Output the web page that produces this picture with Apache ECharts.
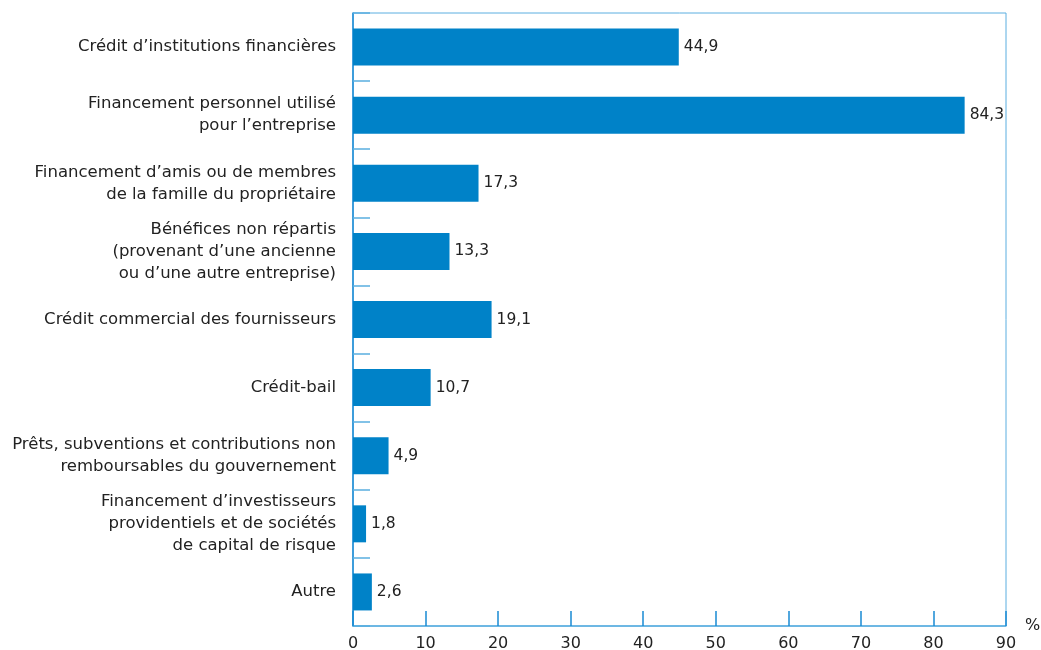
<!DOCTYPE html>
<html><head><meta charset="utf-8">
<script src="https://cdn.jsdelivr.net/npm/echarts@6/dist/echarts.min.js"></script>
<style>html,body{margin:0;padding:0;background:#fff}#c{width:1041px;height:650px}</style>
</head><body><div id="c"></div>
<script>
const categories = [
  "Crédit d’institutions financières",
  "Financement personnel utilisé\npour l’entreprise",
  "Financement d’amis ou de membres\nde la famille du propriétaire",
  "Bénéfices non répartis\n(provenant d’une ancienne\nou d’une autre entreprise)",
  "Crédit commercial des fournisseurs",
  "Crédit-bail",
  "Prêts, subventions et contributions non\nremboursables du gouvernement",
  "Financement d’investisseurs\nprovidentiels et de sociétés\nde capital de risque",
  "Autre"
];
const values = [44.9, 84.3, 17.3, 13.3, 19.1, 10.7, 4.9, 1.8, 2.6];
const xTicks = [0, 10, 20, 30, 40, 50, 60, 70, 80, 90];

const FONT = "'DejaVu Sans'";
const chart = echarts.init(document.getElementById('c'), null, {renderer: 'canvas'});
chart.setOption({
  animation: false,
  grid: {left: 353, right: 35, top: 13, bottom: 24, show: true, borderColor: '#5aaee0', borderWidth: 1,
    containLabel: false, outerBoundsMode: 'none'},
  xAxis: {
    type: 'value', min: 0, max: 90, interval: 10,
    name: '%', nameLocation: 'end', nameGap: 19,
    nameTextStyle: {color: '#222', fontSize: 16, fontFamily: FONT, verticalAlign: 'middle', padding: [0, 0, 0, 0]},
    axisLine: {show: true, lineStyle: {color: '#5aaee0', width: 1.5}},
    axisTick: {show: true, inside: true, length: 15, lineStyle: {color: '#1a8ad4', width: 1.5}},
    axisLabel: {color: '#222', fontSize: 16, fontFamily: FONT, margin: 10,
      formatter: v => xTicks.includes(v) ? String(v) : ''},
    splitLine: {show: false}
  },
  yAxis: {
    type: 'category', data: categories, inverse: true,
    axisLine: {show: true, lineStyle: {color: '#1a8ad4', width: 1.5}},
    axisTick: {show: true, inside: true, length: 17, lineStyle: {color: '#5aaee0', width: 1.5}},
    axisLabel: {color: '#222', fontSize: 16.5, fontFamily: FONT, margin: 17, lineHeight: 22, align: 'right'},
    splitLine: {show: false}
  },
  series: [{
    type: 'bar', data: values, barWidth: 37,
    itemStyle: {color: '#0082c8'},
    label: {show: true, position: 'right', distance: 5, color: '#222', fontSize: 15.5, fontFamily: FONT,
      formatter: p => String(p.value.toFixed(1)).replace('.', ',')}
  }]
});
</script></body></html>
